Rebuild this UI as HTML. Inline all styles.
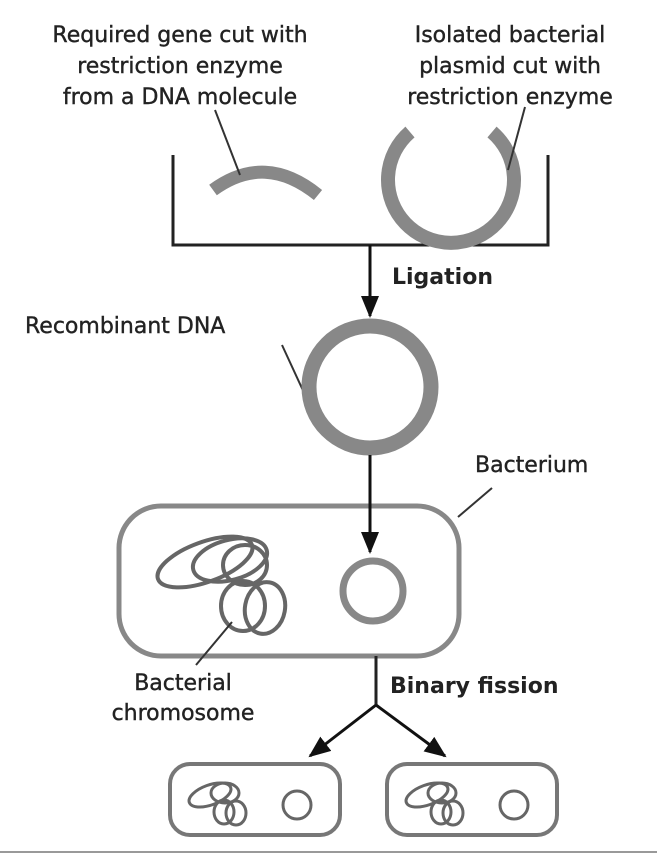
<!DOCTYPE html>
<html><head><meta charset="utf-8"><style>
html,body{margin:0;padding:0;background:#fff;}
svg{display:block;}
text{font-family:"DejaVu Sans","Liberation Sans",sans-serif;fill:#222;}
</style></head><body>
<svg width="657" height="855" viewBox="0 0 657 855" xmlns="http://www.w3.org/2000/svg">
<defs>
<marker id="ah2" markerWidth="22" markerHeight="22" refX="20" refY="11" orient="auto" markerUnits="userSpaceOnUse">
<path d="M0,2 L22,11 L0,20 z" fill="#111"/>
</marker>
</defs>
<g font-size="22" text-anchor="middle" stroke="#222" stroke-width="0.4">
<text x="180" y="42">Required gene cut with</text>
<text x="180" y="73">restriction enzyme</text>
<text x="180" y="104">from a DNA molecule</text>
<text x="510" y="42">Isolated bacterial</text>
<text x="510" y="73">plasmid cut with</text>
<text x="510" y="104">restriction enzyme</text>
</g>
<path d="M173,155 L173,245 L548,245 L548,155" fill="none" stroke="#222" stroke-width="3"/>
<line x1="370" y1="245" x2="370" y2="316" stroke="#111" stroke-width="3" marker-end="url(#ah2)"/>
<text x="392" y="284" font-size="22" font-weight="bold" fill="#111">Ligation</text>
<path d="M213,190 Q265,152 318,195" fill="none" stroke="#888" stroke-width="13"/>
<line x1="215" y1="110" x2="240" y2="175" stroke="#333" stroke-width="2"/>
<path d="M410,132 A63,63 0 1 0 492,132" fill="none" stroke="#888" stroke-width="14"/>
<line x1="525" y1="107" x2="508" y2="170" stroke="#333" stroke-width="2"/>
<text x="25" y="333" font-size="22" stroke="#222" stroke-width="0.4">Recombinant DNA</text>
<line x1="282" y1="345" x2="312" y2="410" stroke="#333" stroke-width="2"/>
<circle cx="370" cy="387" r="61" fill="#fff" stroke="#888" stroke-width="15"/>
<text x="475" y="472" font-size="22" stroke="#222" stroke-width="0.4">Bacterium</text>
<line x1="458" y1="517" x2="492" y2="488" stroke="#333" stroke-width="2"/>
<rect x="119" y="506" width="340" height="150" rx="42" fill="#fff" stroke="#888" stroke-width="5"/>
<line x1="370" y1="455" x2="370" y2="552" stroke="#111" stroke-width="3" marker-end="url(#ah2)"/>
<circle cx="373" cy="591" r="30" fill="#fff" stroke="#888" stroke-width="7"/>
<g fill="none" stroke="#666" stroke-width="4">
<ellipse cx="205" cy="562" rx="50" ry="20" transform="rotate(-20 205 562)"/>
<ellipse cx="230" cy="560" rx="38" ry="20" transform="rotate(-15 230 560)"/>
<ellipse cx="245" cy="565" rx="22" ry="20"/>
<ellipse cx="243" cy="606" rx="22" ry="25"/>
<ellipse cx="265" cy="608" rx="20" ry="26" transform="rotate(10 265 608)"/>
</g>
<line x1="232" y1="622" x2="196" y2="665" stroke="#333" stroke-width="2"/>
<g font-size="22" text-anchor="middle" stroke="#222" stroke-width="0.4">
<text x="183" y="690">Bacterial</text>
<text x="183" y="720">chromosome</text>
</g>
<path d="M376,656 L376,705" stroke="#222" stroke-width="3"/>
<line x1="376" y1="705" x2="310" y2="756" stroke="#111" stroke-width="3" marker-end="url(#ah2)"/>
<line x1="376" y1="705" x2="445" y2="756" stroke="#111" stroke-width="3" marker-end="url(#ah2)"/>
<text x="390" y="693" font-size="22" font-weight="bold" fill="#111">Binary fission</text>
<g fill="none" stroke="#777" stroke-width="4">
<rect x="170" y="764" width="170" height="71" rx="20"/>
<rect x="387" y="764" width="170" height="71" rx="20"/>
</g>
<g fill="none" stroke="#666" stroke-width="3">
<circle cx="297" cy="805" r="14"/>
<circle cx="514" cy="805" r="14"/>
<ellipse cx="210" cy="795" rx="22" ry="10" transform="rotate(-20 210 795)"/>
<ellipse cx="225" cy="793" rx="14" ry="10"/>
<ellipse cx="224" cy="812" rx="10" ry="12"/>
<ellipse cx="236" cy="813" rx="10" ry="12"/>
<ellipse cx="427" cy="795" rx="22" ry="10" transform="rotate(-20 427 795)"/>
<ellipse cx="442" cy="793" rx="14" ry="10"/>
<ellipse cx="441" cy="812" rx="10" ry="12"/>
<ellipse cx="453" cy="813" rx="10" ry="12"/>
</g>
<line x1="0" y1="852" x2="657" y2="852" stroke="#999" stroke-width="2"/>
</svg>
</body></html>
